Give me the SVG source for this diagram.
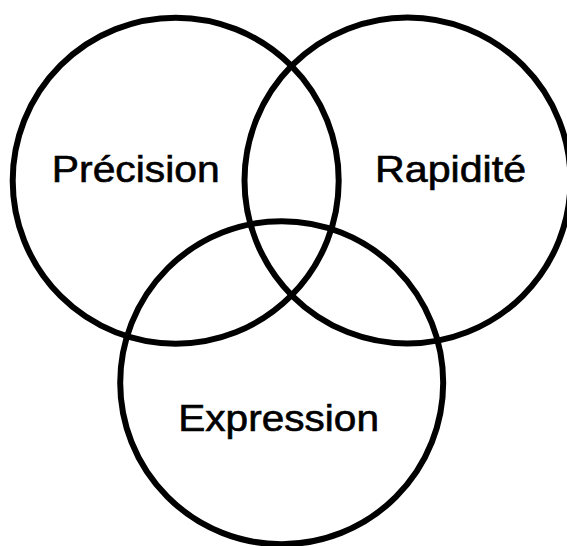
<svg xmlns="http://www.w3.org/2000/svg" width="567" height="546" viewBox="0 0 567 546">
<style>
.c{fill:none;stroke:#000;stroke-width:6}
.t{font-family:"Liberation Sans",Arial,Helvetica,sans-serif;font-size:36.5px;fill:#000;stroke:#000;stroke-width:0.6;text-anchor:middle}
</style>
<rect width="567" height="546" fill="#fff"/>
<g id="precision">
<circle class="c" cx="175.7" cy="180.7" r="163"/>
<text class="t" x="135.8" y="181.8" textLength="168" lengthAdjust="spacingAndGlyphs">Précision</text>
</g>
<g id="rapidite">
<circle class="c" cx="407.5" cy="180.5" r="163"/>
<text class="t" x="450.6" y="181.8" textLength="151" lengthAdjust="spacingAndGlyphs">Rapidité</text>
</g>
<g id="expression">
<circle class="c" cx="281.7" cy="382.7" r="161.5"/>
<text class="t" x="278.6" y="431" textLength="200.7" lengthAdjust="spacingAndGlyphs">Expression</text>
</g>
<g id="connectors"/>
</svg>
